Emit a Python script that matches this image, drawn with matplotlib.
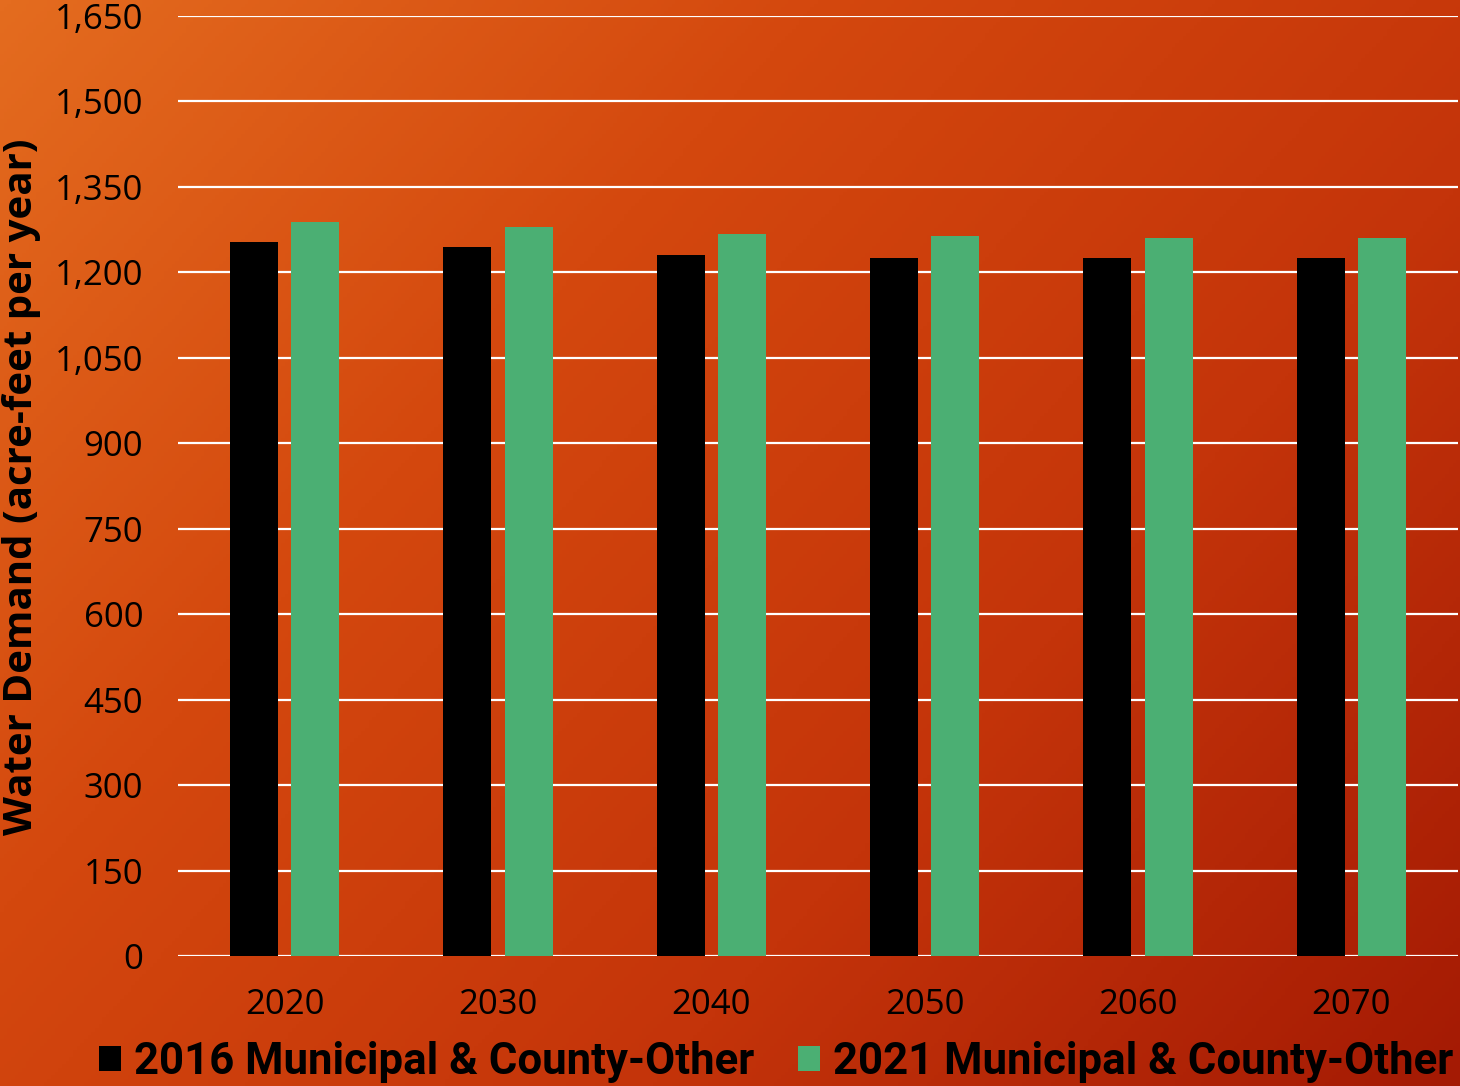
import numpy as np
import matplotlib
matplotlib.use("Agg")
import matplotlib.pyplot as plt
from matplotlib.colors import LinearSegmentedColormap

years = ["2020", "2030", "2040", "2050", "2060", "2070"]
demand_2016 = [1253, 1244, 1230, 1226, 1225, 1225]
demand_2021 = [1288, 1280, 1267, 1264, 1261, 1261]
series_names = ["2016 Municipal & County-Other", "2021 Municipal & County-Other"]
yticks = list(range(0, 1651, 150))

W, H = 1460, 1086
fig = plt.figure(figsize=(W / 100, H / 100), dpi=100)

# background gradient
bg = fig.add_axes([0, 0, 1, 1], zorder=-10)
bg.set_axis_off()
xx, yy = np.meshgrid(np.linspace(0, 1, 400), np.linspace(0, 1, 300))
t = (xx * 0.6 + yy * 0.4)
cmap = LinearSegmentedColormap.from_list(
    "bg", ["#E46C1F", "#D4480E", "#C4340A", "#A41A04"])
bg.imshow(t, cmap=cmap, aspect="auto", extent=[0, 1, 0, 1], origin="upper")
bg.set_xlim(0, 1)
bg.set_ylim(0, 1)

ax = fig.add_axes([178 / W, 1 - 956 / H, (1458 - 178) / W, (956 - 16) / H])
ax.set_facecolor("none")

x = np.arange(len(years))
bw = 0.225
off = 0.143
ax.bar(x - off, demand_2016, bw, color="black", zorder=3, label=series_names[0])
ax.bar(x + off, demand_2021, bw, color="#4BAF73", zorder=3, label=series_names[1])

ax.set_xlim(-0.5, len(years) - 0.5)
ax.set_ylim(0, 1650)
ax.set_yticks(yticks)
ax.set_yticklabels([f"{v:,}" for v in yticks])
ax.set_xticks(x)
ax.set_xticklabels(years)
ax.yaxis.grid(True, color="white", linewidth=1.6, zorder=1)
ax.set_axisbelow(True)
for s in ax.spines.values():
    s.set_visible(False)
ax.tick_params(axis="both", length=0, labelsize=25, colors="black")
ax.tick_params(axis="y", pad=25)
ax.tick_params(axis="x", pad=23)
for lab in ax.get_xticklabels() + ax.get_yticklabels():
    lab.set_fontfamily(["Open Sans", "DejaVu Sans"])

fig.text(22 / W, 1 - 487 / H, "Water Demand (acre-feet per year)", rotation=90,
         ha="center", va="center", fontsize=29, fontweight="bold",
         family=["Open Sans", "DejaVu Sans"], color="black")

leg = fig.legend(loc="center left", bbox_to_anchor=(99 / W, 1 - 1062 / H),
                 ncol=2, frameon=False, borderpad=0, borderaxespad=0,
                 handlelength=0.5, handleheight=0.5, handletextpad=0.3,
                 columnspacing=1.0,
                 prop={"family": ["Roboto", "DejaVu Sans"],
                       "weight": "bold", "size": 31.5})

fig.savefig("out.png", dpi=100)
